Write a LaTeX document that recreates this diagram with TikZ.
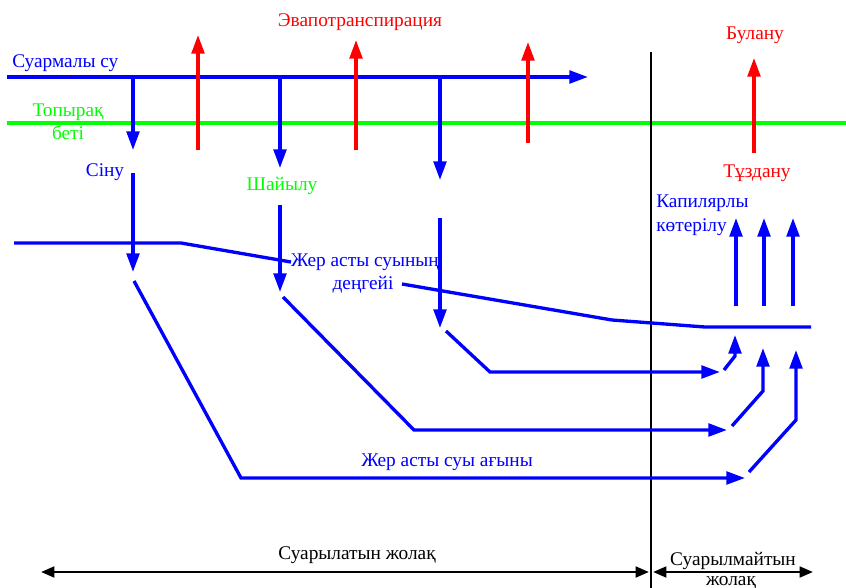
\documentclass[tikz,border=0pt]{standalone}
\usepackage{fontspec}
\setmainfont{Liberation Serif}
\usetikzlibrary{arrows.meta}

\begin{document}
\begin{tikzpicture}[
            x = 0.75pt, y = -0.75pt, % one unit = one pixel of the sketch
            > = {Triangle[length=14pt, width=9.5pt]}, % arrow head style
            every node/.style = {font=\fontsize{14.5}{17}\selectfont, inner sep=0pt},
        ]

        \useasboundingbox (0,0) rectangle (846,588);

        \tikzstyle{water}=[draw = blue, line width = 2.5pt]
        \tikzstyle{evap}=[draw = red, line width = 2.5pt]
        \tikzstyle{ground}=[draw = green, line width = 2.5pt]
        \tikzstyle{zone}=[draw = black, line width = 2pt, {Triangle[length=10pt, width=8pt]}-{Triangle[length=10pt, width=8pt]}]

        % labels
        \node[blue, anchor=west] (irrig) at (12,63) {Суармалы су};
        \node[red] (evapo) at (360,22) {Эвапотранспирация};
        \node[green] (soil) at (68,112) {Топырақ};
        \node[green] (soilb) at (68,133) {беті};
        \node[blue] (seep) at (105,172) {Сіну};
        \node[green] (wash) at (282,186) {Шайылу};
        \node[blue] (gwl) at (365,262) {Жер асты суының};
        \node[blue] (gwlb) at (363,285) {деңгейі};
        \node[red] (vapour) at (755,35) {Булану};
        \node[red] (salt) at (757,173) {Тұздану};
        \node[blue, anchor=west] (cap) at (656,203) {Капилярлы};
        \node[blue, anchor=west] (capb) at (656,227) {көтерілу};
        \node[blue] (flow) at (447,462) {Жер асты суы ағыны};
        \node (irr) at (357,555) {Суарылатын жолақ};
        \node (nirr) at (733,561) {Суарылмайтын};
        \node (nirrb) at (731,583) {жолақ};

        % surfaces
        \coordinate (w0) at (7,77);
        \coordinate (w1) at (588,77);
        \coordinate (s0) at (7,123);
        \coordinate (s1) at (846,123);
        \draw[water,->] (w0) -- (w1);
        \draw[ground] (s0) -- (s1);

        % border of the irrigated strip
        \coordinate (b0) at (651,52);
        \coordinate (b1) at (651,588);
        \draw[black, line width=2pt] (b0) -- (b1);

        % evaporation
        \foreach \x/\t/\b [count=\i] in {198/35/150, 356/40/150, 528/42/143, 754/58/153} {
            \coordinate (e\i a) at (\x,\b);
            \coordinate (e\i b) at (\x,\t);
            \draw[evap,->] (e\i a) -- (e\i b);
        }

        % infiltration from the canal
        \foreach \x/\t/\u/\v [count=\i] in {133/150/173/272, 280/168/205/292, 440/180/218/328} {
            \coordinate (d\i a) at (\x,77);
            \coordinate (d\i b) at (\x,\t);
            \coordinate (d\i c) at (\x,\u);
            \coordinate (d\i d) at (\x,\v);
            \draw[water,->] (d\i a) -- (d\i b);
            \draw[water,->] (d\i c) -- (d\i d);
        }

        % groundwater level
        \coordinate (g0) at (14,243);
        \coordinate (g1) at (181,243);
        \coordinate (g2) at (402,284);
        \coordinate (g3) at (612,320);
        \coordinate (g4) at (705,327);
        \coordinate (g5) at (811,327);
        \draw[water] (g0) -- (g1) -- (gwl.west);
        \draw[water] (g2) -- (g3) -- (g4) -- (g5);

        % groundwater flow
        \coordinate (f1a) at (446,331);
        \coordinate (f1b) at (490,372);
        \coordinate (f1c) at (720,372);
        \coordinate (f2a) at (283,297);
        \coordinate (f2b) at (414,430);
        \coordinate (f2c) at (727,430);
        \coordinate (f3a) at (134,281);
        \coordinate (f3b) at (241,478);
        \coordinate (f3c) at (745,478);
        \foreach \i in {1,2,3}
            \draw[water,->] (f\i a) -- (f\i b) -- (f\i c);

        % rising under the dry strip
        \coordinate (r1a) at (724,370);
        \coordinate (r1b) at (735,356);
        \coordinate (r1c) at (735,335);
        \coordinate (r2a) at (732,426);
        \coordinate (r2b) at (763,391);
        \coordinate (r2c) at (763,348);
        \coordinate (r3a) at (749,472);
        \coordinate (r3b) at (796,420);
        \coordinate (r3c) at (796,350);
        \foreach \i in {1,2,3}
            \draw[water,->] (r\i a) -- (r\i b) -- (r\i c);

        % capillary rise
        \foreach \x [count=\i] in {736,764,793} {
            \coordinate (c\i a) at (\x,306);
            \coordinate (c\i b) at (\x,218);
            \draw[water,->] (c\i a) -- (c\i b);
        }

        % strips
        \coordinate (z0) at (41,572);
        \coordinate (z1) at (649,572);
        \coordinate (z2) at (653,572);
        \coordinate (z3) at (813,572);
        \draw[zone] (z0) -- (z1);
        \draw[zone] (z2) -- (z3);
    \end{tikzpicture}
\end{document}
